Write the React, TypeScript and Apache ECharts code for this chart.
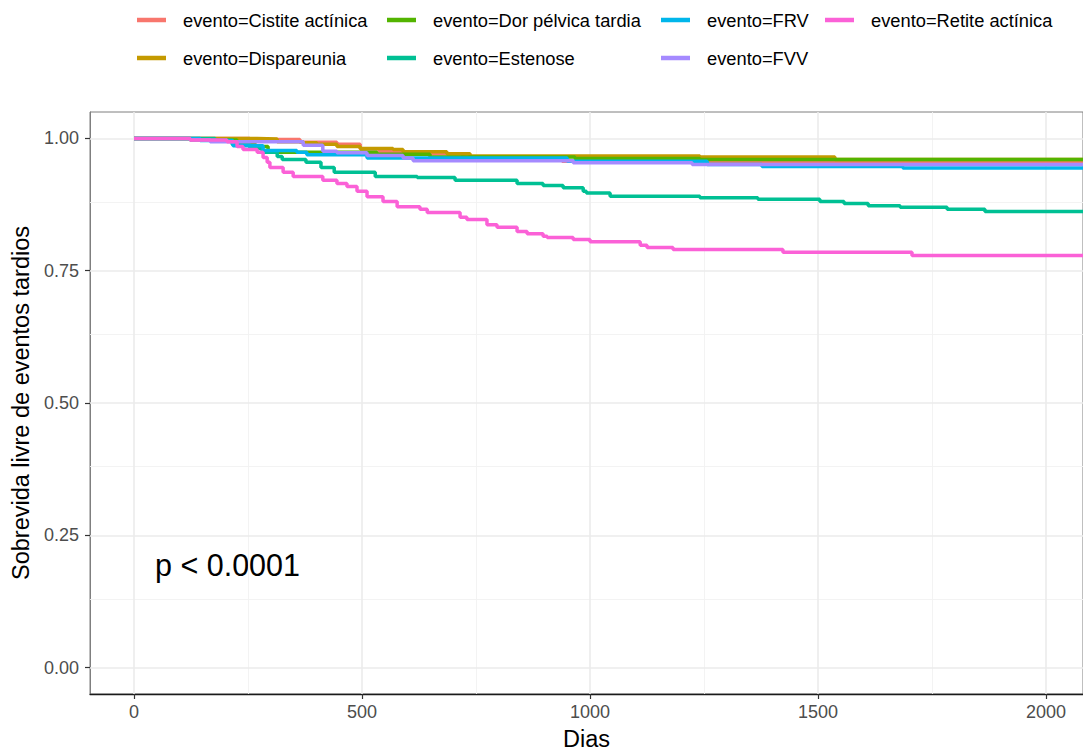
import React, { useEffect, useRef } from "react";
import * as echarts from "echarts";

// ---- Data ----
const seriesNames = [
  "evento=Cistite actínica",
  "evento=Dispareunia",
  "evento=Dor pélvica tardia",
  "evento=Estenose",
  "evento=FRV",
  "evento=FVV",
  "evento=Retite actínica",
];
const seriesColors = ["#F8766D", "#C49A00", "#53B400", "#00C094", "#00B6EB", "#A58AFF", "#FB61D7"];

const cistiteDias = [0, 254, 364, 445, 496, 539, 590, 721, 939];
const cistiteSurv = [1.0, 0.998, 0.993, 0.989, 0.98, 0.975, 0.971, 0.965, 0.957];

const dispareuniaDias = [0, 270, 314, 371, 401, 445, 496, 568, 590, 686, 737, 1241, 1537];
const dispareuniaSurv = [1.0, 0.999, 0.994, 0.992, 0.989, 0.985, 0.981, 0.979, 0.975, 0.971, 0.967, 0.965, 0.96];

const dorDias = [0, 123, 226, 265, 294, 533, 649, 967, 1241];
const dorSurv = [1.0, 0.997, 0.992, 0.985, 0.974, 0.97, 0.965, 0.962, 0.96];

const estenoseDias = [0, 178, 215, 254, 281, 314, 325, 377, 410, 439, 529, 621, 704, 840, 897, 941, 985, 992, 1044, 1241, 1368, 1504, 1557, 1610, 1680, 1783, 1866];
const estenoseSurv = [1.0, 0.996, 0.989, 0.981, 0.974, 0.966, 0.96, 0.955, 0.945, 0.936, 0.928, 0.926, 0.921, 0.915, 0.911, 0.907, 0.9, 0.897, 0.891, 0.888, 0.885, 0.881, 0.877, 0.873, 0.87, 0.866, 0.862];

const frvDias = [0, 145, 217, 283, 357, 379, 511, 950, 1257, 1377, 1686];
const frvSurv = [1.0, 0.996, 0.986, 0.977, 0.974, 0.969, 0.963, 0.957, 0.951, 0.947, 0.944];

const fvvDias = [0, 123, 167, 371, 414, 445, 511, 590, 612, 963, 1224];
const fvvSurv = [1.0, 0.997, 0.994, 0.987, 0.976, 0.973, 0.968, 0.963, 0.958, 0.954, 0.951];

const retiteDias = [0, 123, 204, 226, 239, 270, 283, 292, 298, 327, 349, 414, 445, 467, 489, 511, 546, 577, 627, 643, 715, 730, 774, 796, 840, 862, 897, 906, 963, 1000, 1110, 1125, 1182, 1423, 1706];
const retiteSurv = [1.0, 0.997, 0.994, 0.985, 0.979, 0.974, 0.964, 0.955, 0.945, 0.936, 0.928, 0.921, 0.915, 0.909, 0.9, 0.89, 0.881, 0.871, 0.866, 0.86, 0.851, 0.847, 0.837, 0.832, 0.824, 0.82, 0.815, 0.813, 0.809, 0.805, 0.798, 0.794, 0.79, 0.785, 0.779];

const followUpEnd = 2100;

const xTicks = [0, 500, 1000, 1500, 2000];
const xMinor = [250, 750, 1250, 1750];
const yTicks = [0, 0.25, 0.5, 0.75, 1.0];
const yMinor = [0.125, 0.375, 0.625, 0.875];

const xTitle = "Dias";
const yTitle = "Sobrevida livre de eventos tardios";
const pValueText = "p < 0.0001";

const FONT = "'Liberation Sans', Arial, Helvetica, sans-serif";

const allDias = [cistiteDias, dispareuniaDias, dorDias, estenoseDias, frvDias, fvvDias, retiteDias];
const allSurv = [cistiteSurv, dispareuniaSurv, dorSurv, estenoseSurv, frvSurv, fvvSurv, retiteSurv];

function stepPoints(d: number[], s: number[]) {
  const pts = d.map((x, i) => [x, s[i]]);
  pts.push([followUpEnd, s[s.length - 1]]);
  return pts;
}

export default function App() {
  const ref = useRef<HTMLDivElement>(null);
  useEffect(() => {
    if (!ref.current) return;
    const chart = echarts.init(ref.current, undefined, { renderer: "svg" });

    const gridSeries: any = {
      type: "line",
      data: [[0, null]],
      symbol: "none",
      silent: true,
      z: 1,
      lineStyle: { opacity: 0 },
      markLine: {
        silent: true,
        z: 1,
        symbol: ["none", "none"],
        label: { show: false },
        emphasis: { disabled: true },
        data: [
          ...xMinor.map((v) => ({ xAxis: v, lineStyle: { color: "#F2F2F2", width: 0.9, type: "solid" } })),
          ...yMinor.map((v) => ({ yAxis: v, lineStyle: { color: "#F2F2F2", width: 0.9, type: "solid" } })),
          ...xTicks.map((v) => ({ xAxis: v, lineStyle: { color: "#EBEBEB", width: 1.6, type: "solid" } })),
          ...yTicks.map((v) => ({ yAxis: v, lineStyle: { color: "#EBEBEB", width: 1.6, type: "solid" } })),
        ],
      },
    };

    const curveSeries = seriesNames.map((name, i) => ({
      name,
      type: "line",
      step: "end",
      symbol: "none",
      clip: true,
      z: 3,
      data: stepPoints(allDias[i], allSurv[i]),
      itemStyle: { color: seriesColors[i] },
      lineStyle: { color: seriesColors[i], width: 3.5 },
      emphasis: { disabled: true },
    }));

    const legendCommon = {
      orient: "vertical",
      top: 5,
      itemWidth: 29,
      itemHeight: 4.5,
      itemGap: 18,
      icon: "rect",
      selectedMode: false,
      textStyle: { fontFamily: FONT, fontSize: 18.3, color: "#000", lineHeight: 20, padding: [0, 0, 0, 12] },
    };

    chart.setOption({
      animation: false,
      textStyle: { fontFamily: FONT },
      grid: {
        left: 90,
        top: 112,
        width: 993,
        height: 582,
        show: true,
        borderColor: "#7F7F7F",
        borderWidth: 1,
        backgroundColor: "#FFFFFF",
        containLabel: false,
        outerBoundsMode: "none",
      },
      legend: [
        { ...legendCommon, left: 132, data: [seriesNames[0], seriesNames[1]] },
        { ...legendCommon, left: 382, data: [seriesNames[2], seriesNames[3]] },
        { ...legendCommon, left: 656, data: [seriesNames[4], seriesNames[5]] },
        { ...legendCommon, left: 820, data: [seriesNames[6]] },
      ],
      xAxis: {
        type: "value",
        min: -96.5,
        max: 2081,
        name: xTitle,
        nameLocation: "middle",
        nameGap: 33,
        nameTextStyle: { fontFamily: FONT, fontSize: 23.5, color: "#000" },
        axisLine: { show: true, onZero: false, lineStyle: { color: "#1A1A1A", width: 1.3 } },
        axisTick: { show: true, length: 5, customValues: xTicks, lineStyle: { color: "#333333", width: 1.2 } },
        axisLabel: {
          customValues: xTicks,
          fontFamily: FONT,
          fontSize: 18,
          color: "#4D4D4D",
          margin: 9,
          formatter: (v: number) => String(v),
        },
        splitLine: { show: false },
      },
      yAxis: {
        type: "value",
        min: -0.05,
        max: 1.05,
        name: yTitle,
        nameLocation: "middle",
        nameRotate: 90,
        nameGap: 56,
        nameTextStyle: { fontFamily: FONT, fontSize: 23.5, color: "#000" },
        axisLine: { show: true, onZero: false, lineStyle: { color: "#7F7F7F", width: 1 } },
        axisTick: { show: true, length: 5, customValues: yTicks, lineStyle: { color: "#333333", width: 1.2 } },
        axisLabel: {
          customValues: yTicks,
          fontFamily: FONT,
          fontSize: 18,
          color: "#4D4D4D",
          margin: 11,
          formatter: (v: number) => v.toFixed(2),
        },
        splitLine: { show: false },
      },
      graphic: [
        {
          type: "text",
          left: 155,
          top: 549,
          style: { text: pValueText, fontFamily: FONT, fontSize: 30.5, fill: "#000" },
        },
      ],
      series: [gridSeries, ...curveSeries],
    });

    return () => chart.dispose();
  }, []);

  return <div ref={ref} style={{ position: "fixed", left: 0, top: 0, width: 1083, height: 751, background: "#fff" }} />;
}
